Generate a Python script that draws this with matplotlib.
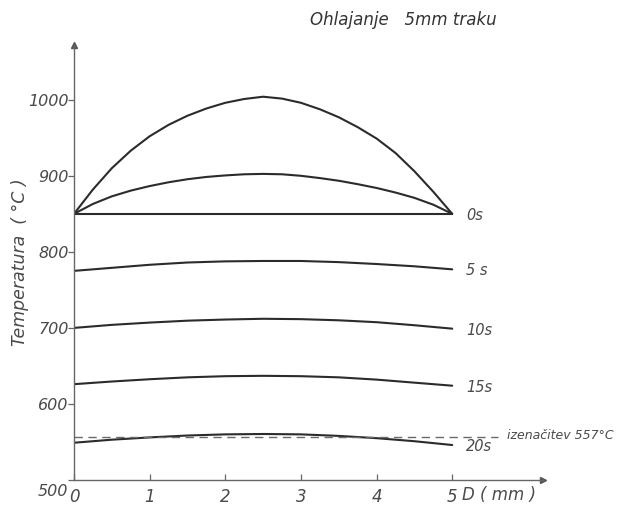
import matplotlib
matplotlib.use("Agg")
import matplotlib.pyplot as plt
import matplotlib.transforms as mtransforms

# Position across the 5 mm strip (mm)
depth_fine = [0.0, 0.25, 0.5, 0.75, 1.0, 1.25, 1.5, 1.75, 2.0, 2.25, 2.5,
              2.75, 3.0, 3.25, 3.5, 3.75, 4.0, 4.25, 4.5, 4.75, 5.0]
depth = [0.0, 0.5, 1.0, 1.5, 2.0, 2.5, 3.0, 3.5, 4.0, 4.5, 5.0]

# Initial temperature profiles (°C)
heating_high = [850, 882, 910, 933, 952, 967, 979, 988.5, 996, 1001, 1004,
                1001.5, 996, 987.5, 977, 964, 949, 930, 906, 879, 850]
heating_mid = [850, 863, 873, 880.5, 886.5, 891.5, 895.5, 898.5, 900.5, 902,
               902.5, 902, 900, 897, 893.5, 889, 884, 878, 871, 862, 850]

# Cooling profiles (°C)
t_0s = [850, 850, 850, 850, 850, 850, 850, 850, 850, 850, 850]
t_5s = [775, 779, 783, 786, 787.5, 788, 788, 786.5, 784, 781, 777]
t_10s = [700, 704, 707, 709.5, 711, 712, 711.5, 710, 707.5, 703.5, 699]
t_15s = [626, 629.5, 632.5, 635, 636.5, 637, 636.5, 635, 632, 628, 624]
t_20s = [549, 553, 556, 558.5, 560, 560.5, 560, 558, 555, 551, 546]

time_labels = ["0s", "5 s", "10s", "15s", "20s"]
equalization_temp = 557
equalization_label = "izenačitev 557°C"

x_ticks = [0, 1, 2, 3, 4, 5]
y_ticks = [500, 600, 700, 800, 900, 1000]

plt.rcParams["font.family"] = ["DejaVu Sans"]
line_col = "#2b2b2b"
text_col = "#4a4a4a"

fig = plt.figure(figsize=(6.19, 5.07), dpi=100)
ax = fig.add_axes([74 / 619, 1 - 480 / 507, 469 / 619, 435 / 507])
ax.set_xlim(0, 6.2)
ax.set_ylim(500, 1072)

lw = 1.5
style = dict(color=line_col, lw=lw, solid_capstyle="round",
             solid_joinstyle="round")
for series in (heating_high, heating_mid):
    ax.plot(depth_fine, series, **style)
for series in (t_0s, t_5s, t_10s, t_15s, t_20s):
    ax.plot(depth, series, **style)

# equalization temperature
ax.plot([0, 5.6], [equalization_temp, equalization_temp], color="#6a6a6a",
        lw=1.0, ls=(0, (6, 4)))
ax.text(5.72, equalization_temp + 2, equalization_label, fontsize=9,
        style="italic", color=text_col, ha="left", va="center", clip_on=False)

# time labels at the right end of each profile
for series, lab in zip((t_0s, t_5s, t_10s, t_15s, t_20s), time_labels):
    ax.text(5.18, series[-1] - 2, lab, fontsize=10.5, style="italic",
            color=text_col, ha="left", va="center")

# axes styling
for s in ("top", "right"):
    ax.spines[s].set_visible(False)
for s in ("left", "bottom"):
    ax.spines[s].set_color("#666666")
    ax.spines[s].set_linewidth(1.0)

ax.set_xticks(x_ticks)
ax.set_yticks(y_ticks)
ax.set_xticklabels([str(v) for v in x_ticks], fontsize=12, style="italic",
                   color=text_col)
ax.set_yticklabels([str(v) for v in y_ticks], fontsize=11.5, style="italic",
                   color=text_col)
ax.tick_params(axis="x", direction="in", length=4, width=0.9, colors="#666666",
               labelcolor=text_col, pad=6)
ax.tick_params(axis="y", direction="out", length=4, width=0.9, colors="#666666",
               labelcolor=text_col, pad=0)
# lower the origin label a little
lbl500 = ax.get_yticklabels()[0]
lbl500.set_transform(lbl500.get_transform() +
                     mtransforms.ScaledTranslation(0, -10 / 100, fig.dpi_scale_trans))

# axis arrows
ax.plot(1, 0, marker=">", ms=5, color="#555555", transform=ax.transAxes,
        clip_on=False)
ax.plot(0, 1, marker="^", ms=5, color="#555555", transform=ax.transAxes,
        clip_on=False)

fig.text(462 / 619, 1 - 495 / 507, "D ( mm )", fontsize=12, style="italic",
         color=text_col, ha="left", va="center")

fig.text(20 / 619, 1 - 262 / 507, "Temperatura  ( °C )", fontsize=12.5,
         style="italic", color=text_col, rotation=90, ha="center", va="center")

fig.text(310 / 619, 1 - 20 / 507, "Ohlajanje   5mm traku", fontsize=12,
         style="italic", color="#333333", ha="left", va="center")

fig.savefig("out.png", dpi=100, facecolor="white")
